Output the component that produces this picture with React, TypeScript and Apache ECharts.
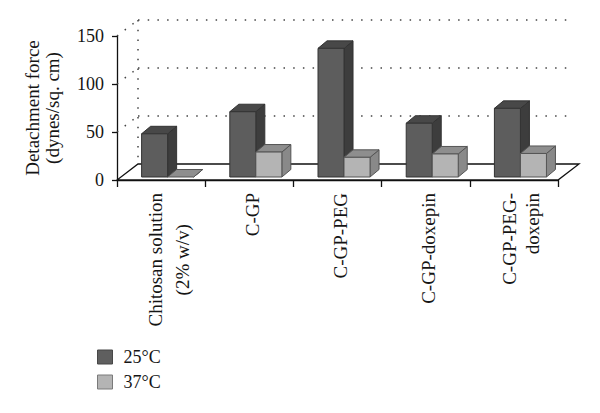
import React, { useEffect, useRef } from 'react';
import * as echarts from 'echarts';

const categories = ['Chitosan solution\n(2% w/v)', 'C-GP', 'C-GP-PEG', 'C-GP-doxepin', 'C-GP-PEG-\ndoxepin'];
const seriesNames = ['25°C', '37°C'];
const values25 = [45, 68, 134, 56, 71.5];
const values37 = [0, 26, 20.5, 24, 24.5];
const yTicks = [0, 50, 100, 150];

const FONT = '"Liberation Serif", "Times New Roman", serif';
const TEXT = '#151515';
const DEPTH_X = 21;
const DEPTH_Y = -16;
const BAR_DX = 9;
const BAR_DY = -7.5;
const INSET_Y = -3;

const DARK = { front: '#5d5d5d', top: '#484848', side: '#3d3d3d', stroke: '#333333' };
const LIGHT = { front: '#b4b4b4', top: '#8e8e8e', side: '#898989', stroke: '#555555' };

function makeBarRender(offsetFrac: number, c: typeof DARK) {
  return (params: any, api: any) => {
    const idx = api.value(0);
    const v = api.value(1);
    const top = api.coord([idx, v]);
    const base = api.coord([idx, 0]);
    const band = api.size([1, 0])[0];
    const w = band * 0.295;
    const x0 = top[0] + band * offsetFrac;
    const yb = base[1] + INSET_Y;
    const yt = top[1] + INSET_Y;
    const lw = 1;
    const children: any[] = [
      {
        type: 'polygon',
        shape: { points: [[x0 + w, yt], [x0 + w + BAR_DX, yt + BAR_DY], [x0 + w + BAR_DX, yb + BAR_DY], [x0 + w, yb]] },
        style: { fill: c.side, stroke: c.stroke, lineWidth: lw },
      },
      {
        type: 'polygon',
        shape: { points: [[x0, yt], [x0 + w, yt], [x0 + w + BAR_DX, yt + BAR_DY], [x0 + BAR_DX, yt + BAR_DY]] },
        style: { fill: c.top, stroke: c.stroke, lineWidth: lw },
      },
    ];
    if (yb - yt > 0.5) {
      children.push({
        type: 'rect',
        shape: { x: x0, y: yt, width: w, height: yb - yt },
        style: { fill: c.front, stroke: c.stroke, lineWidth: lw },
      });
    }
    return { type: 'group', children };
  };
}

function frameRender(params: any, api: any) {
  const cs = params.coordSys;
  const left = cs.x;
  const right = cs.x + cs.width;
  const y0 = api.coord([0, 0])[1];
  const dotted = { stroke: '#444444', lineWidth: 1.5, lineDash: [1.5, 8.2], fill: null };
  const children: any[] = [
    {
      type: 'polygon',
      shape: { points: [[left, y0], [right, y0], [right + DEPTH_X, y0 + DEPTH_Y], [left + DEPTH_X, y0 + DEPTH_Y]] },
      style: { fill: '#ffffff', stroke: '#111111', lineWidth: 1.3 },
    },
  ];
  const yMax = api.coord([0, yTicks[yTicks.length - 1]])[1];
  children.push({
    type: 'line',
    shape: { x1: left + DEPTH_X, y1: yMax + DEPTH_Y, x2: left + DEPTH_X, y2: y0 + DEPTH_Y },
    style: dotted,
  });
  yTicks.forEach((t) => {
    if (t === 0) return;
    const yv = api.coord([0, t])[1];
    children.push({
      type: 'line',
      shape: { x1: left + DEPTH_X, y1: yv + DEPTH_Y, x2: right + DEPTH_X - 5, y2: yv + DEPTH_Y },
      style: dotted,
    });
    children.push({
      type: 'line',
      shape: { x1: left, y1: yv, x2: left + DEPTH_X, y2: yv + DEPTH_Y },
      style: dotted,
    });
  });
  return { type: 'group', children };
}

function formatCategory(value: string, idx: number) {
  if (value.indexOf('\n') < 0) return value;
  const style = idx === 0 ? 'c' : 'r';
  return '{s| }\n' + value.split('\n').map((s) => `{${style}|${s}}`).join('\n');
}

export default function App() {
  const ref = useRef<HTMLDivElement>(null);
  useEffect(() => {
    if (!ref.current) return;
    const chart = echarts.init(ref.current, undefined, { renderer: 'svg' });
    chart.setOption({
      animation: false,
      backgroundColor: '#ffffff',
      grid: { left: 117, right: 42, top: 36, bottom: 233, containLabel: false },
      legend: {
        orient: 'vertical',
        left: 97,
        top: 348,
        padding: 0,
        itemWidth: 15,
        itemHeight: 14,
        itemGap: 7,
        icon: 'rect',
        textStyle: { fontFamily: FONT, fontSize: 18, color: TEXT, lineHeight: 16, padding: [0, 0, 0, 6] },
        data: [
          { name: seriesNames[0], itemStyle: { color: '#5f5f5f', borderColor: '#474747', borderWidth: 1 } },
          { name: seriesNames[1], itemStyle: { color: '#b4b4b4', borderColor: '#7a7a7a', borderWidth: 1 } },
        ],
      },
      xAxis: {
        type: 'category',
        data: categories,
        boundaryGap: true,
        axisLine: { show: true, lineStyle: { color: '#111111', width: 1.3 } },
        axisTick: { show: true, length: 7, lineStyle: { color: '#111111', width: 1.3 } },
        splitLine: { show: false },
        axisLabel: {
          interval: 0,
          rotate: 90,
          margin: 13,
          fontFamily: FONT,
          fontSize: 19,
          lineHeight: 23,
          color: TEXT,
          padding: [6, 0, 0, 0],
          formatter: formatCategory,
          rich: {
            s: { fontSize: 1, lineHeight: 9 },
            c: { align: 'center', fontFamily: FONT, fontSize: 19, lineHeight: 27, color: TEXT },
            r: { fontFamily: FONT, fontSize: 19, lineHeight: 23, color: TEXT },
          },
        },
      },
      yAxis: {
        type: 'value',
        min: 0,
        max: 150,
        interval: 50,
        name: 'Detachment force\n(dynes/sq. cm)',
        nameLocation: 'middle',
        nameGap: 55,
        nameTextStyle: { fontFamily: FONT, fontSize: 19, lineHeight: 20, color: TEXT },
        axisLine: { show: true, lineStyle: { color: '#111111', width: 1.3 } },
        axisTick: { show: true, length: 5, lineStyle: { color: '#111111', width: 1.3 } },
        splitLine: { show: false },
        axisLabel: { margin: 13, fontFamily: FONT, fontSize: 18, color: TEXT },
      },
      series: [
        {
          type: 'custom',
          name: 'frame',
          coordinateSystem: 'cartesian2d',
          clip: false,
          silent: true,
          z: 1,
          data: [[0, 0]],
          renderItem: frameRender,
        },
        {
          type: 'custom',
          name: seriesNames[0],
          coordinateSystem: 'cartesian2d',
          clip: false,
          z: 3,
          itemStyle: { color: '#5f5f5f' },
          encode: { x: 0, y: 1 },
          data: values25.map((v, i) => [i, v]),
          renderItem: makeBarRender(-0.221, DARK),
        },
        {
          type: 'custom',
          name: seriesNames[1],
          coordinateSystem: 'cartesian2d',
          clip: false,
          z: 4,
          itemStyle: { color: '#b4b4b4' },
          encode: { x: 0, y: 1 },
          data: values37.map((v, i) => [i, v]),
          renderItem: makeBarRender(0.074, LIGHT),
        },
      ],
    });
    return () => chart.dispose();
  }, []);
  return <div ref={ref} style={{ position: 'fixed', left: 0, top: 0, width: 600, height: 413 }} />;
}
